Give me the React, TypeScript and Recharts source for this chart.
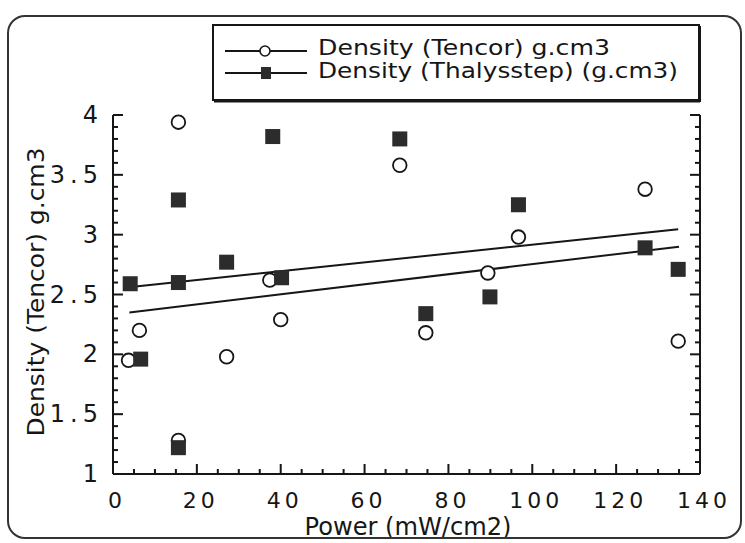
import { ScatterChart, Scatter, XAxis, YAxis, Legend } from 'recharts';

// Density vs power
const tencorPower = [3.7, 6.3, 15.6, 15.6, 27.1, 37.4, 40.0, 68.4, 74.6, 89.4, 96.7, 126.9, 134.8];
const tencorDensity = [1.95, 2.2, 3.94, 1.28, 1.98, 2.62, 2.29, 3.58, 2.18, 2.68, 2.98, 3.38, 2.11];

const thalysPower = [4.1, 6.6, 15.6, 15.6, 15.6, 27.1, 38.1, 40.2, 68.4, 74.6, 89.9, 96.7, 126.9, 134.8];
const thalysDensity = [2.59, 1.96, 3.29, 2.6, 1.22, 2.77, 3.82, 2.64, 3.8, 2.34, 2.48, 3.25, 2.89, 2.71];

// linear fit end points
const tencorFitPower = [3.9, 135];
const tencorFitDensity = [2.35, 2.9];
const thalysFitPower = [3.7, 134.8];
const thalysFitDensity = [2.56, 3.045];

const xMajor = [0, 20, 40, 60, 80, 100, 120, 140];
const yMajor = [1, 1.5, 2, 2.5, 3, 3.5, 4];

const xTicks = Array.from({ length: 29 }, (_, i) => i * 5);
const yTicks = Array.from({ length: 31 }, (_, i) => Math.round((1 + i * 0.1) * 10) / 10);

const zip = (xs: number[], ys: number[]) => xs.map((x, i) => ({ x, y: ys[i] }));
const tencor = zip(tencorPower, tencorDensity);
const thalys = zip(thalysPower, thalysDensity);
const tencorFit = zip(tencorFitPower, tencorFitDensity);
const thalysFit = zip(thalysFitPower, thalysFitDensity);

const INK = '#161616';
const FONT = '"DejaVu Sans", "Liberation Sans", sans-serif';
const TW = 2; // tick thickness
const MAJ = 10;
const MIN = 5;

const isYMajor = (v: number) => yMajor.some((m) => Math.abs(m - v) < 1e-6);

// tick marks point into the plot on all four sides
function BottomTick(p: any) {
  const v = p.payload.value;
  const major = xMajor.includes(v);
  const len = major ? MAJ : MIN;
  return (
    <g>
      <rect x={p.x - TW / 2} y={p.y - len} width={TW} height={len} fill={INK} />
      {major && (
        <text x={p.x + 4} y={p.y + 34} textAnchor="middle" fontSize={22} letterSpacing={4} fill={INK} fontFamily={FONT}>
          {v}
        </text>
      )}
    </g>
  );
}

function TopTick(p: any) {
  const len = xMajor.includes(p.payload.value) ? MAJ : MIN;
  return <rect x={p.x - TW / 2} y={p.y} width={TW} height={len} fill={INK} />;
}

function LeftTick(p: any) {
  const v = p.payload.value;
  const major = isYMajor(v);
  const len = major ? MAJ : MIN;
  return (
    <g>
      <rect x={p.x} y={p.y - TW / 2} width={len} height={TW} fill={INK} />
      {major && (
        <text x={p.x - 10} y={p.y + 8} textAnchor="end" fontSize={24} letterSpacing={5} fill={INK} fontFamily={FONT}>
          {v}
        </text>
      )}
    </g>
  );
}

function RightTick(p: any) {
  const len = isYMajor(p.payload.value) ? MAJ : MIN;
  return <rect x={p.x - len} y={p.y - TW / 2} width={len} height={TW} fill={INK} />;
}

const circleShape = (p: any) => <circle cx={p.cx} cy={p.cy} r={6.8} fill="#fff" stroke={INK} strokeWidth={1.8} />;
const squareShape = (p: any) => <rect x={p.cx - 7.5} y={p.cy - 7.5} width={15} height={15} fill="#2c2c2c" />;
const noShape = () => <g />;

function LegendBox() {
  return (
    <svg width={492} height={82}>
      <rect x={2} y={2} width={486} height={75} fill="#fff" stroke={INK} strokeWidth={2} />
      <line x1={3} y1={78} x2={489} y2={78} stroke={INK} strokeWidth={3} />
      <line x1={489} y1={3} x2={489} y2={79} stroke={INK} strokeWidth={2} />
      <line x1={14} x2={96} y1={28} y2={28} stroke={INK} strokeWidth={2} />
      <circle cx={54} cy={28} r={5} fill="#fff" stroke={INK} strokeWidth={1.6} />
      <line x1={14} x2={96} y1={50} y2={50} stroke={INK} strokeWidth={2} />
      <rect x={50} y={44} width={10} height={12} fill="#2c2c2c" />
      <text x={107} y={32} fontSize={21} fill={INK} fontFamily={FONT} textLength={292} lengthAdjust="spacingAndGlyphs">
        Density (Tencor) g.cm3
      </text>
      <text x={107} y={55} fontSize={21} fill={INK} fontFamily={FONT} textLength={360} lengthAdjust="spacingAndGlyphs">
        Density (Thalysstep) (g.cm3)
      </text>
    </svg>
  );
}

const xTitle = () => (
  <text x={408} y={535} textAnchor="middle" fontSize={24} fill={INK} fontFamily={FONT} textLength={207} lengthAdjust="spacingAndGlyphs">
    Power (mW/cm2)
  </text>
);

const yTitle = () => (
  <text
    x={44}
    y={292}
    transform="rotate(-90, 44, 292)"
    textAnchor="middle"
    fontSize={23}
    fill={INK}
    fontFamily={FONT}
    textLength={289}
    lengthAdjust="spacingAndGlyphs"
  >
    Density (Tencor) g.cm3
  </text>
);

export default function App() {
  return (
    <div style={{ position: 'relative', width: 745, height: 543, background: '#fff' }}>
      <style>{'body{margin:0;background:#fff}'}</style>
      <ScatterChart width={745} height={543} margin={{ top: 115, right: 0, bottom: 0, left: 0 }}>
        <XAxis
          type="number"
          dataKey="x"
          domain={[0, 140]}
          ticks={xTicks}
          interval={0}
          height={69}
          tickSize={0}
          tickMargin={0}
          tickLine={false}
          tick={<BottomTick />}
          axisLine={{ stroke: INK, strokeWidth: 2 }}
          label={{ value: 'Power (mW/cm2)', content: xTitle }}
        />
        <XAxis
          xAxisId="top"
          orientation="top"
          type="number"
          dataKey="x"
          domain={[0, 140]}
          allowDataOverflow
          ticks={xTicks}
          interval={0}
          height={0}
          tickSize={0}
          tickMargin={0}
          tickLine={false}
          tick={<TopTick />}
          axisLine={{ stroke: INK, strokeWidth: 2 }}
        />
        <YAxis
          type="number"
          dataKey="y"
          domain={[1, 4]}
          ticks={yTicks}
          interval={0}
          width={113}
          tickSize={0}
          tickMargin={0}
          tickLine={false}
          tick={<LeftTick />}
          axisLine={{ stroke: INK, strokeWidth: 2 }}
          label={{ value: 'Density (Tencor) g.cm3', content: yTitle }}
        />
        <YAxis
          yAxisId="right"
          orientation="right"
          type="number"
          dataKey="y"
          domain={[1, 4]}
          allowDataOverflow
          ticks={yTicks}
          interval={0}
          width={45}
          tickSize={0}
          tickMargin={0}
          tickLine={false}
          tick={<RightTick />}
          axisLine={{ stroke: INK, strokeWidth: 2 }}
        />
        <Legend
          layout="horizontal"
          verticalAlign="middle"
          wrapperStyle={{ left: 211, top: 23, width: 492, height: 82 }}
          content={() => <LegendBox />}
        />
        <Scatter data={thalysFit} line={{ stroke: INK, strokeWidth: 2 }} shape={noShape} legendType="none" isAnimationActive={false} />
        <Scatter data={tencorFit} line={{ stroke: INK, strokeWidth: 2 }} shape={noShape} legendType="none" isAnimationActive={false} />
        <Scatter name="Density (Tencor) g.cm3" data={tencor} shape={circleShape} isAnimationActive={false} />
        <Scatter name="Density (Thalysstep) (g.cm3)" data={thalys} shape={squareShape} isAnimationActive={false} />
      </ScatterChart>
      <div
        style={{
          position: 'absolute',
          left: 7,
          top: 15,
          width: 731,
          height: 520,
          border: '2px solid #333',
          borderRadius: 18,
          pointerEvents: 'none',
        }}
      />
    </div>
  );
}
